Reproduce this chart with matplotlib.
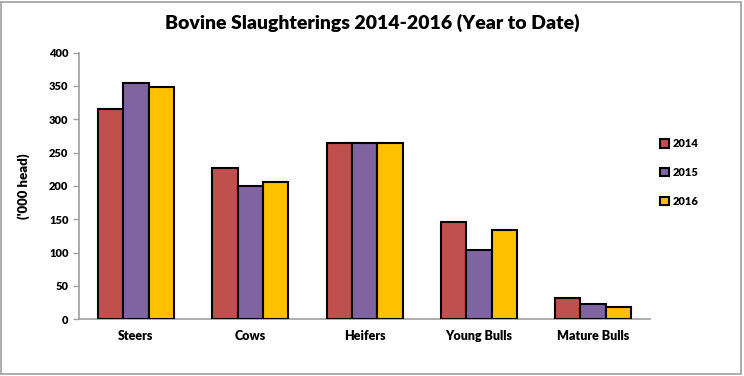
import matplotlib.pyplot as plt
import numpy as np

categories = ['Steers', 'Cows', 'Heifers', 'Young Bulls', 'Mature Bulls']
years = ['2014', '2015', '2016']
v2014 = [315.5, 226.5, 264.5, 146.5, 31.5]
v2015 = [354.5, 200, 264.5, 104.5, 23]
v2016 = [348, 206.5, 264, 134.5, 19]
colours = ['#C0504D', '#8064A2', '#FFC000']

plt.rcParams['font.family'] = ['Lato', 'DejaVu Sans']

fig = plt.figure(figsize=(7.44, 3.76), dpi=100)
ax = fig.add_axes([0.106, 0.151, 0.768, 0.709])

x = np.arange(len(categories))
w = 0.222
for i, (vals, c, yr) in enumerate(zip([v2014, v2015, v2016], colours, years)):
    ax.bar(x + (i - 1) * w, vals, w, color=c, edgecolor='black',
           linewidth=1.5, label=yr, zorder=3)

ax.set_xlim(-0.5, len(categories) - 0.5)
ax.set_ylim(0, 400)
ax.set_yticks(range(0, 401, 50))
ax.set_yticklabels([str(v) for v in range(0, 401, 50)], fontsize=8, fontweight='heavy')
ax.set_xticks(x)
ax.set_xticklabels(categories, fontsize=9, fontweight='heavy')
ax.tick_params(axis='y', length=4, color='#a0a0a0', width=1)
ax.tick_params(axis='x', length=0, pad=8)
for s in ['top', 'right']:
    ax.spines[s].set_visible(False)
for s in ['left', 'bottom']:
    ax.spines[s].set_color('#a0a0a0')
    ax.spines[s].set_linewidth(1.2)

ax.set_ylabel("('000 head)", fontsize=9.5, fontweight='heavy', labelpad=14)
fig.text(0.5, 0.94, 'Bovine Slaughterings 2014-2016 (Year to Date)',
         ha='center', va='center', fontsize=14, fontweight='heavy')

leg = ax.legend(loc='center left', bbox_to_anchor=(1.0, 0.55), frameon=False,
                handlelength=0.8, handleheight=0.8,
                labelspacing=1.6, handletextpad=0.3, prop={'weight': 'heavy', 'size': 8})

fig.patches.append(plt.Rectangle((0.002, 0.004), 0.994, 0.99, transform=fig.transFigure,
                                 fill=False, edgecolor='#a0a0a0', linewidth=1.2))

fig.savefig('out.png', dpi=100)
